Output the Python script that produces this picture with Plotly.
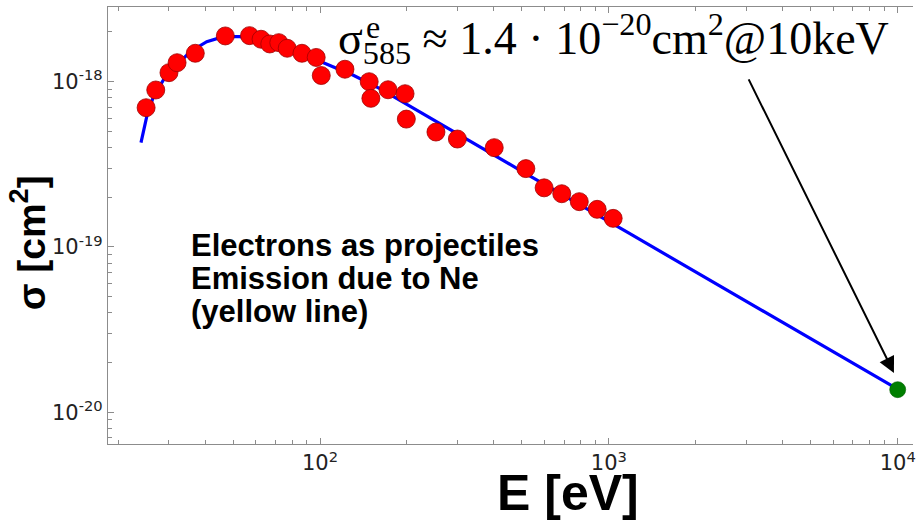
import plotly.graph_objects as go

# ---- data ----
meas_E = [25, 27, 30, 32, 37, 47, 57, 62.5, 67, 72, 77, 86.6, 97, 101, 122,
          148, 150, 172, 197, 199, 252, 299, 401, 516, 597, 687, 790, 911, 1035]
meas_sigma = [6.96e-19, 8.91e-19, 1.134e-18, 1.303e-18, 1.486e-18, 1.892e-18,
              1.90e-18, 1.807e-18, 1.692e-18, 1.723e-18, 1.594e-18, 1.486e-18,
              1.402e-18, 1.09e-18, 1.19e-18, 1.0e-18, 7.93e-19, 8.94e-19,
              8.46e-19, 5.94e-19, 4.96e-19, 4.50e-19, 3.99e-19, 2.98e-19,
              2.28e-19, 2.10e-19, 1.88e-19, 1.69e-19, 1.49e-19]

fit_E = [24.0, 25.2, 26.5, 28.7, 31.95, 35.5, 40.55, 46.3, 52.8, 61.9, 76.5,
         94.5, 110.8, 129.9, 160.5, 188.2, 300, 500, 1170, 3000, 10000]
fit_sigma = [4.28e-19, 6.29e-19, 8.11e-19, 1.024e-18, 1.262e-18, 1.518e-18,
             1.746e-18, 1.872e-18, 1.872e-18, 1.787e-18, 1.592e-18, 1.385e-18,
             1.232e-18, 1.098e-18, 9.12e-19, 7.75e-19, 4.78e-19, 2.87e-19,
             1.216e-19, 4.7e-20, 1.38e-20]

point_E = [10000]
point_sigma = [1.37e-20]

x_tickvals = [100, 1000, 10000]
x_ticktext = ["10<sup>2</sup>", "10<sup>3</sup>", "10<sup>4</sup>"]
y_tickvals = [1e-20, 1e-19, 1e-18]
y_ticktext = ["10<sup>-20</sup>", "10<sup>-19</sup>", "10<sup>-18</sup>"]

x_minor = [m * 10 ** d for d in (1, 2, 3) for m in range(2, 10)]
y_minor = [m * 10.0 ** d for d in (-21, -20, -19, -18) for m in range(2, 10)]

# ---- layout helpers (pixel -> paper) ----
W, H = 916, 521
L, R, T, B = 108, 0, 7, 77
PW, PH = W - L - R, H - T - B


def px(x):
    return (x - L) / PW


def py(y):
    return (H - B - y) / PH


AX = "#8c8c8c"
TXT = "#222222"

fig = go.Figure()
fig.add_trace(go.Scatter(x=fit_E, y=fit_sigma, mode="lines",
                         line=dict(color="#0000ff", width=3.2),
                         showlegend=False, hoverinfo="skip"))
fig.add_trace(go.Scatter(x=meas_E, y=meas_sigma, mode="markers",
                         marker=dict(color="#ff0000", size=18,
                                     line=dict(color="#a00000", width=0.8)),
                         showlegend=False))
fig.add_trace(go.Scatter(x=point_E, y=point_sigma, mode="markers",
                         marker=dict(color="#007f00", size=16,
                                     line=dict(color="#006000", width=0.6)),
                         showlegend=False, cliponaxis=False))

fig.update_layout(
    width=W, height=H,
    margin=dict(l=L, r=R, t=T, b=B, pad=0),
    paper_bgcolor="white", plot_bgcolor="white",
    font=dict(family="DejaVu Sans", color=TXT, size=17),
)

fig.update_xaxes(type="log", range=[1.266, 4.053],
                 showgrid=False, zeroline=False,
                 showline=True, linecolor=AX, linewidth=1.3, mirror="allticks",
                 ticks="inside", ticklen=6, tickcolor=AX, tickwidth=1,
                 tickmode="array", tickvals=x_tickvals, ticktext=x_ticktext,
                 ticklabeloverflow="allow",
                 tickfont=dict(family="DejaVu Sans", size=21, color=TXT),
                 minor=dict(ticks="inside", ticklen=3.5, tickcolor=AX,
                            tickwidth=1, tickmode="array", tickvals=x_minor,
                            showgrid=False))
fig.update_yaxes(type="log", range=[-20.192, -17.548],
                 showgrid=False, zeroline=False,
                 showline=True, linecolor=AX, linewidth=1.3, mirror=False,
                 ticks="inside", ticklen=6, tickcolor=AX, tickwidth=1,
                 tickmode="array", tickvals=y_tickvals, ticktext=y_ticktext,
                 tickfont=dict(family="DejaVu Sans", size=21, color=TXT),
                 minor=dict(ticks="inside", ticklen=3.5, tickcolor=AX,
                            tickwidth=1, tickmode="array", tickvals=y_minor,
                            showgrid=False))

ann = []
# axis titles
ann.append(dict(xref="paper", yref="paper", x=px(570), y=py(493),
                text="E [eV]", showarrow=False, xanchor="center",
                yanchor="middle",
                font=dict(family="Liberation Sans", size=50, color="black",
                          weight="bold")))
ann.append(dict(xref="paper", yref="paper", x=px(27), y=py(243),
                text="σ [cm<sup>2</sup>]", showarrow=False, textangle=-90,
                xanchor="center", yanchor="middle",
                font=dict(family="Liberation Sans", size=39, color="black",
                          weight="bold")))
# text block
for txt, yc in [("Electrons as projectiles", 245),
                ("Emission due to Ne", 278),
                ("(yellow line)", 311)]:
    ann.append(dict(xref="paper", yref="paper", x=px(189), y=py(yc),
                    text=txt, showarrow=False, xanchor="left",
                    yanchor="middle",
                    font=dict(family="Liberation Sans", size=31,
                              color="black", weight="bold")))
# formula
ann.append(dict(xref="paper", yref="paper", x=px(337), y=py(38),
                text="σ<sub>585</sub> ≈ 1.4 · 10<sup>−20</sup>cm<sup>2</sup>@10keV",
                showarrow=False, xanchor="left", yanchor="middle",
                font=dict(family="Liberation Serif", size=46, color="black")))
ann.append(dict(xref="paper", yref="paper", x=px(365), y=py(27),
                text="e", showarrow=False, xanchor="left", yanchor="middle",
                font=dict(family="Liberation Serif", size=32, color="black")))
# arrow
ann.append(dict(xref="x", yref="y", x=3.987, y=-19.762,
                axref="pixel", ayref="pixel", ax=-146, ay=-295,
                text="", showarrow=True, arrowhead=2, arrowsize=1.6,
                arrowwidth=2, arrowcolor="black", standoff=0))
fig.update_layout(annotations=ann)

fig.write_html("out.html")
